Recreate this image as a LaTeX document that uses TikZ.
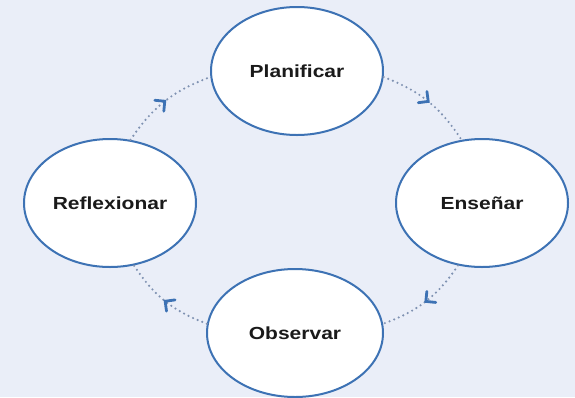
\documentclass[tikz,border=0pt]{standalone}
\usepackage{fontspec}
\setmainfont{Liberation Sans}
\usetikzlibrary{shapes.geometric,calc}
\definecolor{bgc}{HTML}{EAEEF8}
\definecolor{edgec}{HTML}{3D72B4}
\definecolor{dotc}{HTML}{7F92B2}
\definecolor{txtc}{HTML}{1A1A1A}
\newcommand{\lbl}[1]{\scalebox{1.2}[1]{\fontsize{17.5pt}{20pt}\selectfont\bfseries #1}}
\tikzset{
  phase/.style={ellipse, draw=edgec, line width=2pt, fill=white, inner sep=0pt,
    minimum width=172pt, minimum height=128pt, text=txtc},
  flow/.style={draw=dotc, line width=2.4pt, dash pattern=on 0pt off 5pt, line cap=round, bend left=18},
  chev/.style={draw=edgec, line width=2.8pt, line cap=round, line join=miter}
}
\begin{document}
\begin{tikzpicture}[x=1pt,y=-1pt]
\fill[bgc] (0,0) rectangle (575,397);
\useasboundingbox (0,0) rectangle (575,397);
\node[phase] (plan) at (297,71) {\lbl{Planificar}};
\node[phase] (ense) at (482,203) {\lbl{Enseñar}};
\node[phase, minimum width=176pt] (obse) at (295,333) {\lbl{Observar}};
\node[phase] (refl) at (110,203) {\lbl{Reflexionar}};
\path[flow] (refl.72) to coordinate[pos=0.44] (t1) coordinate[pos=0.5] (h1) (plan.184);
\path[flow] (plan.356) to coordinate[pos=0.44] (t2) coordinate[pos=0.5] (h2) (ense.108);
\path[flow] (ense.249) to coordinate[pos=0.44] (t3) coordinate[pos=0.5] (h3) (obse.6);
\path[flow] (obse.174) to coordinate[pos=0.44] (t4) coordinate[pos=0.5] (h4) (refl.291);
\foreach \i in {1,2,3,4}{
  \draw[chev] ($(h\i)!10pt!45:(t\i)$) -- (h\i) -- ($(h\i)!10pt!-45:(t\i)$);
}
\end{tikzpicture}
\end{document}
